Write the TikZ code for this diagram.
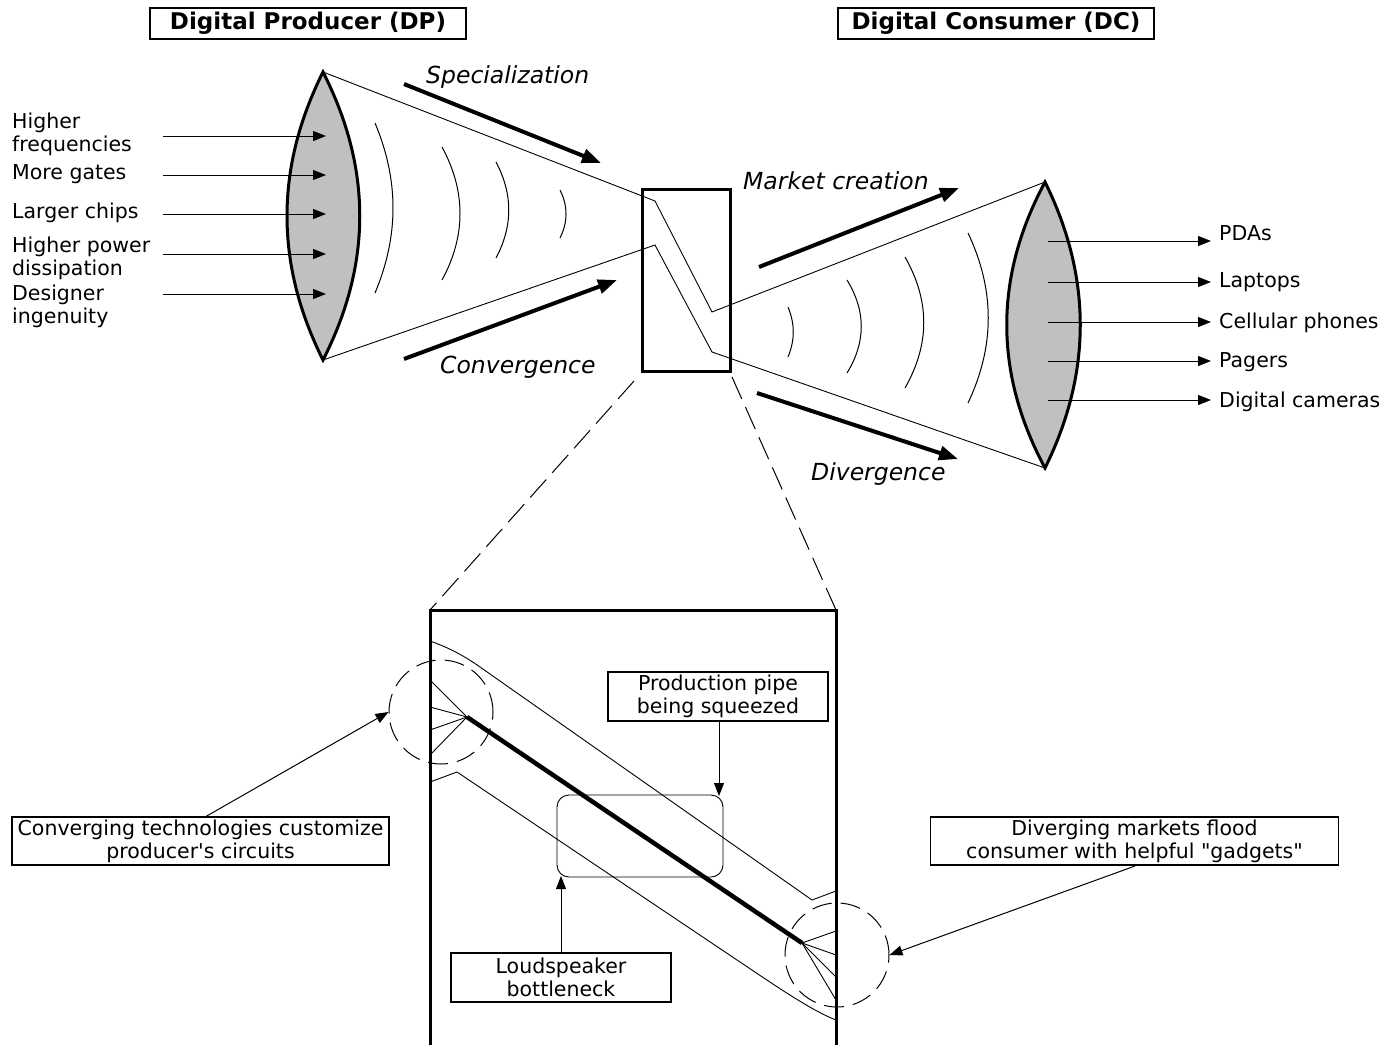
\documentclass[tikz,border=0pt]{standalone}
\usepackage{fontspec}
\setmainfont{DejaVu Sans}[Ligatures=TeXOff]
\usetikzlibrary{arrows.meta}
\definecolor{lensgray}{HTML}{C0C0C0}
\begin{document}
\begin{tikzpicture}[x=1pt,y=-1pt,
  lbl/.style={inner sep=0pt, anchor=base west, font=\fontsize{20.5}{22}\selectfont},
  ital/.style={inner sep=0pt, anchor=base west, font=\fontsize{23.5}{26}\selectfont\itshape},
  titlebox/.style={draw, line width=1.3pt, inner sep=0pt, minimum width=316pt, minimum height=31pt, font=\fontsize{23}{26}\selectfont\bfseries},
  callout/.style={draw, line width=1.3pt, inner sep=0pt, align=center, font=\fontsize{20.5}{23}\selectfont},
  lens/.style={fill=lensgray, draw, line width=3pt},
  thinl/.style={line width=0.9pt},
  wave/.style={line width=1pt},
  inarrow/.style={line width=1pt, -{Triangle[length=13pt,width=10pt]}},
  bigarrow/.style={line width=4pt, -{Triangle[length=19pt,width=14pt]}},
  dashl/.style={line width=1pt, dash pattern=on 24pt off 9pt},
  dcircle/.style={circle, draw, line width=1pt, dash pattern=on 20pt off 9pt, minimum size=104pt, inner sep=0pt},
  heavy/.style={line width=3pt},
]
\useasboundingbox (0,0) rectangle (1389,1044);

% titles
\node[titlebox] (dp) at (308,23.5) {Digital Producer (DP)};
\node[titlebox] (dc) at (996,23.5) {Digital Consumer (DC)};

% cone outlines
\coordinate (lt) at (323,72);
\coordinate (lb) at (323,360);
\coordinate (rt) at (1045,182);
\coordinate (rb) at (1045,468);
\coordinate (k1) at (655,201);
\coordinate (k2) at (712,312);
\coordinate (k3) at (655,245);
\coordinate (k4) at (712,352);
\draw[thinl] (lt) -- (k1) -- (k2) -- (rt);
\draw[thinl] (lb) -- (k3) -- (k4) -- (rb);

% lenses
\draw[lens] (lt) .. controls (275,168) and (275,264) .. (lb)
  .. controls (372,264) and (372,168) .. cycle;
\draw[lens] (rt) .. controls (994,277) and (994,373) .. (rb)
  .. controls (1092,373) and (1092,277) .. cycle;

% waves
\draw[wave] (375,123) .. controls (399,180) and (399,236) .. (375,293);
\draw[wave] (442,147) .. controls (466,191) and (466,236) .. (442,280);
\draw[wave] (496,162) .. controls (513,194) and (513,226) .. (496,258);
\draw[wave] (560,190) .. controls (568,206) and (568,222) .. (560,238);
\draw[wave] (788,307) .. controls (795,324) and (795,340) .. (788,357);
\draw[wave] (847,280) .. controls (866,311) and (866,342) .. (847,373);
\draw[wave] (905,257) .. controls (930,301) and (930,344) .. (905,388);
\draw[wave] (968,233) .. controls (995,290) and (995,346) .. (968,403);

% small box
\node[draw, heavy, minimum width=88pt, minimum height=182pt, inner sep=0pt] (zb) at (686,280) {};

% left labels
\node[lbl] (l1a) at (12,128) {Higher};
\node[lbl] (l1b) at (12,151) {frequencies};
\node[lbl] (l2) at (12,179) {More gates};
\node[lbl] (l3) at (12,218) {Larger chips};
\node[lbl] (l4a) at (12,252) {Higher power};
\node[lbl] (l4b) at (12,275) {dissipation};
\node[lbl] (l5a) at (12,300) {Designer};
\node[lbl] (l5b) at (12,323) {ingenuity};
\foreach \i/\y in {1/136,2/175,3/214,4/254,5/294}{
  \coordinate (ia\i) at (163,\y);
  \coordinate (ib\i) at (326,\y);
  \draw[inarrow] (ia\i) -- (ib\i);
}

% right labels
\node[lbl] (r1) at (1219,240) {PDAs};
\node[lbl] (r2) at (1219,287) {Laptops};
\node[lbl] (r3) at (1219,328) {Cellular phones};
\node[lbl] (r4) at (1219,367) {Pagers};
\node[lbl] (r5) at (1219,407) {Digital cameras};
\foreach \i/\y in {1/241,2/282,3/322,4/361,5/400}{
  \coordinate (oa\i) at (1048,\y);
  \coordinate (ob\i) at (1211,\y);
  \draw[inarrow] (oa\i) -- (ob\i);
}

% big arrows and italic labels
\coordinate (sa) at (404,84);   \coordinate (sb) at (601,163);
\coordinate (ca) at (404,359);  \coordinate (cb) at (617,280);
\coordinate (ma) at (759,267);  \coordinate (mb) at (959,188);
\coordinate (da) at (757,393);  \coordinate (db) at (958,459);
\draw[bigarrow] (sa) -- (sb);
\draw[bigarrow] (ca) -- (cb);
\draw[bigarrow] (ma) -- (mb);
\draw[bigarrow] (da) -- (db);
\node[ital] (spec) at (426,83) {Specialization};
\node[ital] (conv) at (440,373) {Convergence};
\node[ital] (mkt) at (743,189) {Market creation};
\node[ital] (dvg) at (811,480) {Divergence};

% zoom lines
\coordinate (z1) at (634,381);
\coordinate (z2) at (732,377);
\coordinate (bbtl) at (430,610);
\coordinate (bbtr) at (836,610);
\coordinate (bbbl) at (430,1046);
\coordinate (bbbr) at (836,1046);
\draw[dashl] (z1) -- (bbtl);
\draw[dashl] (z2) -- (bbtr);

% detail: pipe
\draw[thinl] (430,641) .. controls (450,648) and (466,657) .. (480,667) -- (812,900) -- (836,891);
\draw[thinl] (430,782) -- (457,772) -- (740,962) .. controls (770,982) and (810,1010) .. (836,1020);
\coordinate (fl) at (467,717);
\coordinate (fr) at (802,943);
\draw[line width=4.5pt] (fl) -- (fr);
\foreach \y in {680,707,730,755}{ \draw[thinl] (fl) -- (430,\y); }
\foreach \y in {931,955,977,1000}{ \draw[thinl] (fr) -- (836,\y); }
\node[dcircle] (lc) at (441,712) {};
\node[dcircle] (rc) at (837,955) {};
\node[draw, thinl, rounded corners=12pt, minimum width=166pt, minimum height=82pt, inner sep=0pt] (rr) at (640,836) {};

% big box
\draw[heavy] (bbbl) -- (bbtl) -- (bbtr) -- (bbbr);

% callouts
\node[callout, minimum width=377pt, minimum height=48pt] (cv) at (200.5,841) {Converging technologies customize\\producer's circuits};
\node[callout, minimum width=408pt, minimum height=48pt] (dv) at (1134.5,841) {Diverging markets flood\\consumer with helpful "gadgets"};
\node[callout, minimum width=220pt, minimum height=49pt] (pp) at (718,696.5) {Production pipe\\being squeezed};
\node[callout, minimum width=220pt, minimum height=49pt] (lsp) at (561,977.5) {Loudspeaker\\bottleneck};

\coordinate (cvs) at (205,817);
\coordinate (dvs) at (1135,866);
\coordinate (ppt) at (719,796);
\coordinate (lst) at (561,876);
\draw[inarrow] (cvs) -- (lc.west);
\draw[inarrow] (dvs) -- (rc.east);
\draw[inarrow] (pp.south -| ppt) -- (ppt);
\draw[inarrow] (lsp.north) -- (lst);
\end{tikzpicture}
\end{document}
